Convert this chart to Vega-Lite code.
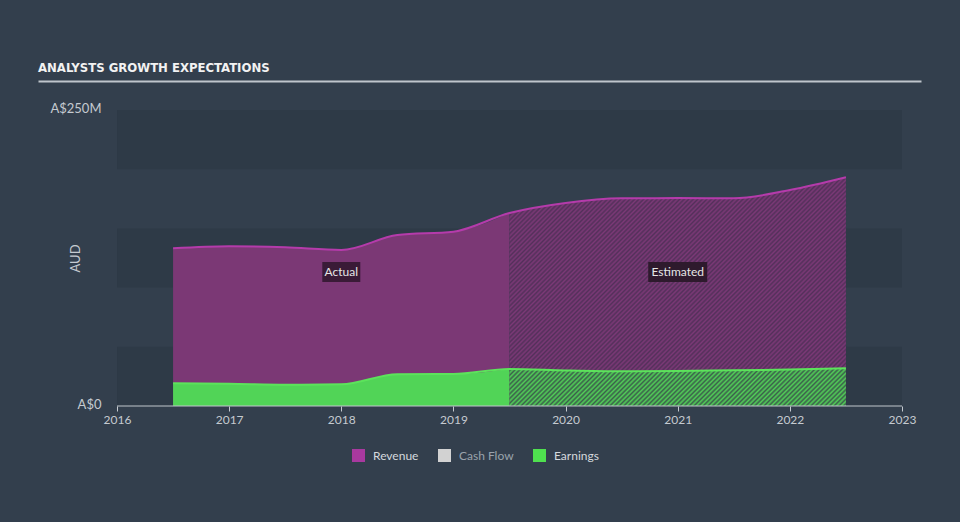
{
  "$schema": "https://vega.github.io/schema/vega-lite/v6.json",
  "autosize": {"type": "none"},
  "width": 883,
  "height": 296,
  "padding": {"left": 38, "top": 110, "right": 39, "bottom": 116},
  "background": "#333f4d",
  "title": {"text": "ANALYSTS GROWTH EXPECTATIONS", "anchor": "start", "frame": "group", "font": "Liberation Sans Narrow, DejaVu Sans Condensed, sans-serif", "fontSize": 13, "fontWeight": "bold", "color": "#f2f2f2", "offset": 6},
  "config": {"view": {"stroke": null}},
  "datasets": {
    "series": [
      {"year": 2016.5, "series": "Revenue", "value": 133.2},
      {"year": 2017.0, "series": "Revenue", "value": 134.9},
      {"year": 2017.5, "series": "Revenue", "value": 134.0},
      {"year": 2018.0, "series": "Revenue", "value": 131.8},
      {"year": 2018.5, "series": "Revenue", "value": 144.4},
      {"year": 2019.0, "series": "Revenue", "value": 147.2},
      {"year": 2019.5, "series": "Revenue", "value": 163.0},
      {"year": 2020.0, "series": "Revenue", "value": 171.5},
      {"year": 2020.5, "series": "Revenue", "value": 175.4},
      {"year": 2021.0, "series": "Revenue", "value": 175.6},
      {"year": 2021.5, "series": "Revenue", "value": 175.4},
      {"year": 2022.0, "series": "Revenue", "value": 182.4},
      {"year": 2022.5, "series": "Revenue", "value": 193.2},
      {"year": 2016.5, "series": "Earnings", "value": 19.2},
      {"year": 2017.0, "series": "Earnings", "value": 18.8},
      {"year": 2017.5, "series": "Earnings", "value": 18.0},
      {"year": 2018.0, "series": "Earnings", "value": 18.3},
      {"year": 2018.5, "series": "Earnings", "value": 26.8},
      {"year": 2019.0, "series": "Earnings", "value": 27.0},
      {"year": 2019.5, "series": "Earnings", "value": 31.3},
      {"year": 2020.0, "series": "Earnings", "value": 30.0},
      {"year": 2020.5, "series": "Earnings", "value": 29.3},
      {"year": 2021.0, "series": "Earnings", "value": 29.6},
      {"year": 2021.5, "series": "Earnings", "value": 30.2},
      {"year": 2022.0, "series": "Earnings", "value": 30.8},
      {"year": 2022.5, "series": "Earnings", "value": 31.8}
    ],
    "bands": [{"lo": 0, "hi": 50}, {"lo": 100, "hi": 150}, {"lo": 200, "hi": 250}],
    "labels": [{"label": "Actual", "year": 2018.0, "value": 113.2}, {"label": "Estimated", "year": 2021.0, "value": 113.2}]
  },
  "resolve": {"axis": {"x": "independent", "y": "independent"}},
  "layer": [
    {
      "data": {"name": "bands"},
      "mark": {"type": "rect", "color": "#2e3a47"},
      "encoding": {
        "x": {"datum": 2016, "type": "quantitative", "scale": {"domain": [2015.2955, 2023.1694], "nice": false, "zero": false}, "axis": null},
        "x2": {"datum": 2023},
        "y": {"field": "lo", "type": "quantitative", "scale": {"domain": [0, 250], "nice": false}, "axis": null},
        "y2": {"field": "hi"}
      }
    },
    {
      "data": {"name": "series"},
      "transform": [{"filter": "datum.series == 'Revenue' && datum.year <= 2019.5"}],
      "mark": {"type": "area", "interpolate": "monotone", "color": "#7b3875", "opacity": 1},
      "encoding": {
        "x": {"field": "year", "type": "quantitative", "scale": {"domain": [2015.2955, 2023.1694], "nice": false, "zero": false}, "axis": null},
        "y": {"field": "value", "type": "quantitative", "scale": {"domain": [0, 250], "nice": false}, "axis": null}
      }
    },
    {
      "data": {"name": "series"},
      "transform": [{"filter": "datum.series == 'Revenue' && datum.year >= 2019.5"}],
      "mark": {"type": "area", "interpolate": "monotone", "opacity": 1, "fill": {"gradient": "linear", "x1": 0, "y1": 0, "x2": 1.149, "y2": 0.781, "stops": [
{"offset":0,"color":"#7c3977"},{"offset":0.004,"color":"#53305a"},{"offset":0.008,"color":"#7c3977"},{"offset":0.012,"color":"#53305a"},{"offset":0.016,"color":"#7c3977"},{"offset":0.02,"color":"#53305a"},{"offset":0.024,"color":"#7c3977"},{"offset":0.028,"color":"#53305a"},{"offset":0.032,"color":"#7c3977"},{"offset":0.036,"color":"#53305a"},
{"offset":0.04,"color":"#7c3977"},{"offset":0.044,"color":"#53305a"},{"offset":0.048,"color":"#7c3977"},{"offset":0.052,"color":"#53305a"},{"offset":0.056,"color":"#7c3977"},{"offset":0.06,"color":"#53305a"},{"offset":0.064,"color":"#7c3977"},{"offset":0.068,"color":"#53305a"},{"offset":0.072,"color":"#7c3977"},{"offset":0.076,"color":"#53305a"},
{"offset":0.08,"color":"#7c3977"},{"offset":0.084,"color":"#53305a"},{"offset":0.088,"color":"#7c3977"},{"offset":0.092,"color":"#53305a"},{"offset":0.096,"color":"#7c3977"},{"offset":0.1,"color":"#53305a"},{"offset":0.104,"color":"#7c3977"},{"offset":0.108,"color":"#53305a"},{"offset":0.112,"color":"#7c3977"},{"offset":0.116,"color":"#53305a"},
{"offset":0.12,"color":"#7c3977"},{"offset":0.124,"color":"#53305a"},{"offset":0.128,"color":"#7c3977"},{"offset":0.132,"color":"#53305a"},{"offset":0.136,"color":"#7c3977"},{"offset":0.14,"color":"#53305a"},{"offset":0.144,"color":"#7c3977"},{"offset":0.148,"color":"#53305a"},{"offset":0.152,"color":"#7c3977"},{"offset":0.156,"color":"#53305a"},
{"offset":0.16,"color":"#7c3977"},{"offset":0.164,"color":"#53305a"},{"offset":0.168,"color":"#7c3977"},{"offset":0.172,"color":"#53305a"},{"offset":0.176,"color":"#7c3977"},{"offset":0.18,"color":"#53305a"},{"offset":0.184,"color":"#7c3977"},{"offset":0.188,"color":"#53305a"},{"offset":0.192,"color":"#7c3977"},{"offset":0.196,"color":"#53305a"},
{"offset":0.2,"color":"#7c3977"},{"offset":0.204,"color":"#53305a"},{"offset":0.208,"color":"#7c3977"},{"offset":0.212,"color":"#53305a"},{"offset":0.216,"color":"#7c3977"},{"offset":0.22,"color":"#53305a"},{"offset":0.224,"color":"#7c3977"},{"offset":0.228,"color":"#53305a"},{"offset":0.232,"color":"#7c3977"},{"offset":0.236,"color":"#53305a"},
{"offset":0.24,"color":"#7c3977"},{"offset":0.244,"color":"#53305a"},{"offset":0.248,"color":"#7c3977"},{"offset":0.252,"color":"#53305a"},{"offset":0.256,"color":"#7c3977"},{"offset":0.26,"color":"#53305a"},{"offset":0.264,"color":"#7c3977"},{"offset":0.268,"color":"#53305a"},{"offset":0.272,"color":"#7c3977"},{"offset":0.276,"color":"#53305a"},
{"offset":0.28,"color":"#7c3977"},{"offset":0.284,"color":"#53305a"},{"offset":0.288,"color":"#7c3977"},{"offset":0.292,"color":"#53305a"},{"offset":0.296,"color":"#7c3977"},{"offset":0.3,"color":"#53305a"},{"offset":0.304,"color":"#7c3977"},{"offset":0.308,"color":"#53305a"},{"offset":0.312,"color":"#7c3977"},{"offset":0.316,"color":"#53305a"},
{"offset":0.32,"color":"#7c3977"},{"offset":0.324,"color":"#53305a"},{"offset":0.328,"color":"#7c3977"},{"offset":0.332,"color":"#53305a"},{"offset":0.336,"color":"#7c3977"},{"offset":0.34,"color":"#53305a"},{"offset":0.344,"color":"#7c3977"},{"offset":0.348,"color":"#53305a"},{"offset":0.352,"color":"#7c3977"},{"offset":0.356,"color":"#53305a"},
{"offset":0.36,"color":"#7c3977"},{"offset":0.364,"color":"#53305a"},{"offset":0.368,"color":"#7c3977"},{"offset":0.372,"color":"#53305a"},{"offset":0.376,"color":"#7c3977"},{"offset":0.38,"color":"#53305a"},{"offset":0.384,"color":"#7c3977"},{"offset":0.388,"color":"#53305a"},{"offset":0.392,"color":"#7c3977"},{"offset":0.396,"color":"#53305a"},
{"offset":0.4,"color":"#7c3977"},{"offset":0.404,"color":"#53305a"},{"offset":0.408,"color":"#7c3977"},{"offset":0.412,"color":"#53305a"},{"offset":0.416,"color":"#7c3977"},{"offset":0.42,"color":"#53305a"},{"offset":0.424,"color":"#7c3977"},{"offset":0.428,"color":"#53305a"},{"offset":0.432,"color":"#7c3977"},{"offset":0.436,"color":"#53305a"},
{"offset":0.44,"color":"#7c3977"},{"offset":0.444,"color":"#53305a"},{"offset":0.448,"color":"#7c3977"},{"offset":0.452,"color":"#53305a"},{"offset":0.456,"color":"#7c3977"},{"offset":0.46,"color":"#53305a"},{"offset":0.464,"color":"#7c3977"},{"offset":0.468,"color":"#53305a"},{"offset":0.472,"color":"#7c3977"},{"offset":0.476,"color":"#53305a"},
{"offset":0.48,"color":"#7c3977"},{"offset":0.484,"color":"#53305a"},{"offset":0.488,"color":"#7c3977"},{"offset":0.492,"color":"#53305a"},{"offset":0.496,"color":"#7c3977"},{"offset":0.5,"color":"#53305a"},{"offset":0.504,"color":"#7c3977"},{"offset":0.508,"color":"#53305a"},{"offset":0.512,"color":"#7c3977"},{"offset":0.516,"color":"#53305a"},
{"offset":0.52,"color":"#7c3977"},{"offset":0.524,"color":"#53305a"},{"offset":0.528,"color":"#7c3977"},{"offset":0.532,"color":"#53305a"},{"offset":0.536,"color":"#7c3977"},{"offset":0.54,"color":"#53305a"},{"offset":0.544,"color":"#7c3977"},{"offset":0.548,"color":"#53305a"},{"offset":0.552,"color":"#7c3977"},{"offset":0.556,"color":"#53305a"},
{"offset":0.56,"color":"#7c3977"},{"offset":0.564,"color":"#53305a"},{"offset":0.568,"color":"#7c3977"},{"offset":0.572,"color":"#53305a"},{"offset":0.576,"color":"#7c3977"},{"offset":0.58,"color":"#53305a"},{"offset":0.584,"color":"#7c3977"},{"offset":0.588,"color":"#53305a"},{"offset":0.592,"color":"#7c3977"},{"offset":0.596,"color":"#53305a"},
{"offset":0.6,"color":"#7c3977"},{"offset":0.604,"color":"#53305a"},{"offset":0.608,"color":"#7c3977"},{"offset":0.612,"color":"#53305a"},{"offset":0.616,"color":"#7c3977"},{"offset":0.62,"color":"#53305a"},{"offset":0.624,"color":"#7c3977"},{"offset":0.628,"color":"#53305a"},{"offset":0.632,"color":"#7c3977"},{"offset":0.636,"color":"#53305a"},
{"offset":0.64,"color":"#7c3977"},{"offset":0.644,"color":"#53305a"},{"offset":0.648,"color":"#7c3977"},{"offset":0.652,"color":"#53305a"},{"offset":0.656,"color":"#7c3977"},{"offset":0.66,"color":"#53305a"},{"offset":0.664,"color":"#7c3977"},{"offset":0.668,"color":"#53305a"},{"offset":0.672,"color":"#7c3977"},{"offset":0.676,"color":"#53305a"},
{"offset":0.68,"color":"#7c3977"},{"offset":0.684,"color":"#53305a"},{"offset":0.688,"color":"#7c3977"},{"offset":0.692,"color":"#53305a"},{"offset":0.696,"color":"#7c3977"},{"offset":0.7,"color":"#53305a"},{"offset":0.704,"color":"#7c3977"},{"offset":0.708,"color":"#53305a"},{"offset":0.712,"color":"#7c3977"},{"offset":0.716,"color":"#53305a"},
{"offset":0.72,"color":"#7c3977"},{"offset":0.724,"color":"#53305a"},{"offset":0.728,"color":"#7c3977"},{"offset":0.732,"color":"#53305a"},{"offset":0.736,"color":"#7c3977"},{"offset":0.74,"color":"#53305a"},{"offset":0.744,"color":"#7c3977"},{"offset":0.748,"color":"#53305a"},{"offset":0.752,"color":"#7c3977"},{"offset":0.756,"color":"#53305a"},
{"offset":0.76,"color":"#7c3977"},{"offset":0.764,"color":"#53305a"},{"offset":0.768,"color":"#7c3977"},{"offset":0.772,"color":"#53305a"},{"offset":0.776,"color":"#7c3977"},{"offset":0.78,"color":"#53305a"},{"offset":0.784,"color":"#7c3977"},{"offset":0.788,"color":"#53305a"},{"offset":0.792,"color":"#7c3977"},{"offset":0.796,"color":"#53305a"},
{"offset":0.8,"color":"#7c3977"},{"offset":0.804,"color":"#53305a"},{"offset":0.808,"color":"#7c3977"},{"offset":0.812,"color":"#53305a"},{"offset":0.816,"color":"#7c3977"},{"offset":0.82,"color":"#53305a"},{"offset":0.824,"color":"#7c3977"},{"offset":0.828,"color":"#53305a"},{"offset":0.832,"color":"#7c3977"},{"offset":0.836,"color":"#53305a"},
{"offset":0.84,"color":"#7c3977"},{"offset":0.844,"color":"#53305a"},{"offset":0.848,"color":"#7c3977"},{"offset":0.852,"color":"#53305a"},{"offset":0.856,"color":"#7c3977"},{"offset":0.86,"color":"#53305a"},{"offset":0.864,"color":"#7c3977"},{"offset":0.868,"color":"#53305a"},{"offset":0.872,"color":"#7c3977"},{"offset":0.876,"color":"#53305a"},
{"offset":0.88,"color":"#7c3977"},{"offset":0.884,"color":"#53305a"},{"offset":0.888,"color":"#7c3977"},{"offset":0.892,"color":"#53305a"},{"offset":0.896,"color":"#7c3977"},{"offset":0.9,"color":"#53305a"},{"offset":0.904,"color":"#7c3977"},{"offset":0.908,"color":"#53305a"},{"offset":0.912,"color":"#7c3977"},{"offset":0.916,"color":"#53305a"},
{"offset":0.92,"color":"#7c3977"},{"offset":0.924,"color":"#53305a"},{"offset":0.928,"color":"#7c3977"},{"offset":0.932,"color":"#53305a"},{"offset":0.936,"color":"#7c3977"},{"offset":0.94,"color":"#53305a"},{"offset":0.944,"color":"#7c3977"},{"offset":0.948,"color":"#53305a"},{"offset":0.952,"color":"#7c3977"},{"offset":0.956,"color":"#53305a"},
{"offset":0.96,"color":"#7c3977"},{"offset":0.964,"color":"#53305a"},{"offset":0.968,"color":"#7c3977"},{"offset":0.972,"color":"#53305a"},{"offset":0.976,"color":"#7c3977"},{"offset":0.98,"color":"#53305a"},{"offset":0.984,"color":"#7c3977"},{"offset":0.988,"color":"#53305a"},{"offset":0.992,"color":"#7c3977"},{"offset":0.996,"color":"#53305a"},
{"offset":1,"color":"#7c3977"}
      ]}},
      "encoding": {
        "x": {"field": "year", "type": "quantitative", "scale": {"domain": [2015.2955, 2023.1694], "nice": false, "zero": false}, "axis": null},
        "y": {"field": "value", "type": "quantitative", "scale": {"domain": [0, 250], "nice": false}, "axis": null}
      }
    },
    {
      "data": {"name": "series"},
      "transform": [{"filter": "datum.series == 'Earnings' && datum.year <= 2019.5"}],
      "mark": {"type": "area", "interpolate": "monotone", "color": "#51d457", "opacity": 1},
      "encoding": {
        "x": {"field": "year", "type": "quantitative", "scale": {"domain": [2015.2955, 2023.1694], "nice": false, "zero": false}, "axis": null},
        "y": {"field": "value", "type": "quantitative", "scale": {"domain": [0, 250], "nice": false}, "axis": null}
      }
    },
    {
      "data": {"name": "series"},
      "transform": [{"filter": "datum.series == 'Earnings' && datum.year >= 2019.5"}],
      "mark": {"type": "area", "interpolate": "monotone", "opacity": 1, "fill": {"gradient": "linear", "x1": 0, "y1": 0, "x2": 1.098, "y2": 0.123, "stops": [
{"offset":0,"color":"#52cf58"},{"offset":0.00625,"color":"#3b5f4b"},{"offset":0.0125,"color":"#52cf58"},{"offset":0.01875,"color":"#3b5f4b"},{"offset":0.025,"color":"#52cf58"},{"offset":0.03125,"color":"#3b5f4b"},{"offset":0.0375,"color":"#52cf58"},{"offset":0.04375,"color":"#3b5f4b"},
{"offset":0.05,"color":"#52cf58"},{"offset":0.05625,"color":"#3b5f4b"},{"offset":0.0625,"color":"#52cf58"},{"offset":0.06875,"color":"#3b5f4b"},{"offset":0.075,"color":"#52cf58"},{"offset":0.08125,"color":"#3b5f4b"},{"offset":0.0875,"color":"#52cf58"},{"offset":0.09375,"color":"#3b5f4b"},
{"offset":0.1,"color":"#52cf58"},{"offset":0.10625,"color":"#3b5f4b"},{"offset":0.1125,"color":"#52cf58"},{"offset":0.11875,"color":"#3b5f4b"},{"offset":0.125,"color":"#52cf58"},{"offset":0.13125,"color":"#3b5f4b"},{"offset":0.1375,"color":"#52cf58"},{"offset":0.14375,"color":"#3b5f4b"},
{"offset":0.15,"color":"#52cf58"},{"offset":0.15625,"color":"#3b5f4b"},{"offset":0.1625,"color":"#52cf58"},{"offset":0.16875,"color":"#3b5f4b"},{"offset":0.175,"color":"#52cf58"},{"offset":0.18125,"color":"#3b5f4b"},{"offset":0.1875,"color":"#52cf58"},{"offset":0.19375,"color":"#3b5f4b"},
{"offset":0.2,"color":"#52cf58"},{"offset":0.20625,"color":"#3b5f4b"},{"offset":0.2125,"color":"#52cf58"},{"offset":0.21875,"color":"#3b5f4b"},{"offset":0.225,"color":"#52cf58"},{"offset":0.23125,"color":"#3b5f4b"},{"offset":0.2375,"color":"#52cf58"},{"offset":0.24375,"color":"#3b5f4b"},
{"offset":0.25,"color":"#52cf58"},{"offset":0.25625,"color":"#3b5f4b"},{"offset":0.2625,"color":"#52cf58"},{"offset":0.26875,"color":"#3b5f4b"},{"offset":0.275,"color":"#52cf58"},{"offset":0.28125,"color":"#3b5f4b"},{"offset":0.2875,"color":"#52cf58"},{"offset":0.29375,"color":"#3b5f4b"},
{"offset":0.3,"color":"#52cf58"},{"offset":0.30625,"color":"#3b5f4b"},{"offset":0.3125,"color":"#52cf58"},{"offset":0.31875,"color":"#3b5f4b"},{"offset":0.325,"color":"#52cf58"},{"offset":0.33125,"color":"#3b5f4b"},{"offset":0.3375,"color":"#52cf58"},{"offset":0.34375,"color":"#3b5f4b"},
{"offset":0.35,"color":"#52cf58"},{"offset":0.35625,"color":"#3b5f4b"},{"offset":0.3625,"color":"#52cf58"},{"offset":0.36875,"color":"#3b5f4b"},{"offset":0.375,"color":"#52cf58"},{"offset":0.38125,"color":"#3b5f4b"},{"offset":0.3875,"color":"#52cf58"},{"offset":0.39375,"color":"#3b5f4b"},
{"offset":0.4,"color":"#52cf58"},{"offset":0.40625,"color":"#3b5f4b"},{"offset":0.4125,"color":"#52cf58"},{"offset":0.41875,"color":"#3b5f4b"},{"offset":0.425,"color":"#52cf58"},{"offset":0.43125,"color":"#3b5f4b"},{"offset":0.4375,"color":"#52cf58"},{"offset":0.44375,"color":"#3b5f4b"},
{"offset":0.45,"color":"#52cf58"},{"offset":0.45625,"color":"#3b5f4b"},{"offset":0.4625,"color":"#52cf58"},{"offset":0.46875,"color":"#3b5f4b"},{"offset":0.475,"color":"#52cf58"},{"offset":0.48125,"color":"#3b5f4b"},{"offset":0.4875,"color":"#52cf58"},{"offset":0.49375,"color":"#3b5f4b"},
{"offset":0.5,"color":"#52cf58"},{"offset":0.50625,"color":"#3b5f4b"},{"offset":0.5125,"color":"#52cf58"},{"offset":0.51875,"color":"#3b5f4b"},{"offset":0.525,"color":"#52cf58"},{"offset":0.53125,"color":"#3b5f4b"},{"offset":0.5375,"color":"#52cf58"},{"offset":0.54375,"color":"#3b5f4b"},
{"offset":0.55,"color":"#52cf58"},{"offset":0.55625,"color":"#3b5f4b"},{"offset":0.5625,"color":"#52cf58"},{"offset":0.56875,"color":"#3b5f4b"},{"offset":0.575,"color":"#52cf58"},{"offset":0.58125,"color":"#3b5f4b"},{"offset":0.5875,"color":"#52cf58"},{"offset":0.59375,"color":"#3b5f4b"},
{"offset":0.6,"color":"#52cf58"},{"offset":0.60625,"color":"#3b5f4b"},{"offset":0.6125,"color":"#52cf58"},{"offset":0.61875,"color":"#3b5f4b"},{"offset":0.625,"color":"#52cf58"},{"offset":0.63125,"color":"#3b5f4b"},{"offset":0.6375,"color":"#52cf58"},{"offset":0.64375,"color":"#3b5f4b"},
{"offset":0.65,"color":"#52cf58"},{"offset":0.65625,"color":"#3b5f4b"},{"offset":0.6625,"color":"#52cf58"},{"offset":0.66875,"color":"#3b5f4b"},{"offset":0.675,"color":"#52cf58"},{"offset":0.68125,"color":"#3b5f4b"},{"offset":0.6875,"color":"#52cf58"},{"offset":0.69375,"color":"#3b5f4b"},
{"offset":0.7,"color":"#52cf58"},{"offset":0.70625,"color":"#3b5f4b"},{"offset":0.7125,"color":"#52cf58"},{"offset":0.71875,"color":"#3b5f4b"},{"offset":0.725,"color":"#52cf58"},{"offset":0.73125,"color":"#3b5f4b"},{"offset":0.7375,"color":"#52cf58"},{"offset":0.74375,"color":"#3b5f4b"},
{"offset":0.75,"color":"#52cf58"},{"offset":0.75625,"color":"#3b5f4b"},{"offset":0.7625,"color":"#52cf58"},{"offset":0.76875,"color":"#3b5f4b"},{"offset":0.775,"color":"#52cf58"},{"offset":0.78125,"color":"#3b5f4b"},{"offset":0.7875,"color":"#52cf58"},{"offset":0.79375,"color":"#3b5f4b"},
{"offset":0.8,"color":"#52cf58"},{"offset":0.80625,"color":"#3b5f4b"},{"offset":0.8125,"color":"#52cf58"},{"offset":0.81875,"color":"#3b5f4b"},{"offset":0.825,"color":"#52cf58"},{"offset":0.83125,"color":"#3b5f4b"},{"offset":0.8375,"color":"#52cf58"},{"offset":0.84375,"color":"#3b5f4b"},
{"offset":0.85,"color":"#52cf58"},{"offset":0.85625,"color":"#3b5f4b"},{"offset":0.8625,"color":"#52cf58"},{"offset":0.86875,"color":"#3b5f4b"},{"offset":0.875,"color":"#52cf58"},{"offset":0.88125,"color":"#3b5f4b"},{"offset":0.8875,"color":"#52cf58"},{"offset":0.89375,"color":"#3b5f4b"},
{"offset":0.9,"color":"#52cf58"},{"offset":0.90625,"color":"#3b5f4b"},{"offset":0.9125,"color":"#52cf58"},{"offset":0.91875,"color":"#3b5f4b"},{"offset":0.925,"color":"#52cf58"},{"offset":0.93125,"color":"#3b5f4b"},{"offset":0.9375,"color":"#52cf58"},{"offset":0.94375,"color":"#3b5f4b"},
{"offset":0.95,"color":"#52cf58"},{"offset":0.95625,"color":"#3b5f4b"},{"offset":0.9625,"color":"#52cf58"},{"offset":0.96875,"color":"#3b5f4b"},{"offset":0.975,"color":"#52cf58"},{"offset":0.98125,"color":"#3b5f4b"},{"offset":0.9875,"color":"#52cf58"},{"offset":0.99375,"color":"#3b5f4b"},
{"offset":1,"color":"#52cf58"}
      ]}},
      "encoding": {
        "x": {"field": "year", "type": "quantitative", "scale": {"domain": [2015.2955, 2023.1694], "nice": false, "zero": false}, "axis": null},
        "y": {"field": "value", "type": "quantitative", "scale": {"domain": [0, 250], "nice": false}, "axis": null}
      }
    },
    {
      "data": {"name": "series"},
      "mark": {"type": "line", "interpolate": "monotone", "strokeWidth": 2},
      "encoding": {
        "x": {"field": "year", "type": "quantitative", "scale": {"domain": [2015.2955, 2023.1694], "nice": false, "zero": false},
          "axis": {"orient": "bottom", "values": [2016, 2017, 2018, 2019, 2020, 2021, 2022, 2023], "format": "d", "domain": false, "grid": false, "ticks": true, "tickSize": 5, "tickColor": "#c5cad0", "labelColor": "#c5cad0", "labelFont": "Lato", "labelFontSize": 12, "labelPadding": 3, "labelFlush": false, "title": null}},
        "y": {"field": "value", "type": "quantitative", "scale": {"domain": [0, 250], "nice": false},
          "axis": {"orient": "left", "offset": -79, "values": [0, 250], "labelExpr": "datum.value == 0 ? 'A$0' : 'A$' + datum.value + 'M'", "domain": false, "ticks": false, "tickSize": 0, "grid": false, "labelPadding": 16, "labelOffset": -2, "labelColor": "#c5cad0", "labelFont": "Lato", "labelFontSize": 13, "title": "AUD", "titleX": -42, "titleY": 148, "titleAngle": -90, "titleAlign": "center", "titleBaseline": "middle", "titleFont": "Lato", "titleFontSize": 13, "titleFontWeight": "normal", "titleColor": "#c5cad0"}},
        "color": {"field": "series", "type": "nominal",
          "scale": {"domain": ["Revenue", "Cash Flow", "Earnings"], "range": ["#b53bab", "#d0d0d0", "#5ce35b"]},
          "legend": {"orient": "none", "legendX": 314, "legendY": 339, "direction": "horizontal", "title": null, "symbolType": "square", "symbolSize": 169, "symbolStrokeWidth": 0, "labelFont": "Lato", "labelFontSize": 12, "labelColor": "#d5d9dd", "labelOffset": 8, "columnPadding": 19,
            "encode": {
              "symbols": {"update": {"fill": {"signal": "datum.value === 'Revenue' ? '#a8399f' : datum.value === 'Cash Flow' ? '#d2d2d2' : '#4fe04f'"}, "stroke": {"value": "transparent"}, "opacity": {"value": 1}}},
              "labels": {"update": {"fill": {"signal": "datum.value === 'Cash Flow' ? '#9aa3ac' : '#d5d9dd'"}}}
            }}}
      }
    },
    {
      "data": {"name": "labels"},
      "transform": [{"filter": "datum.label == 'Actual'"}],
      "mark": {"type": "point", "shape": "M-1,-0.526H1V0.526H-1Z", "size": 1444, "filled": true, "color": "#3a1b37", "opacity": 1},
      "encoding": {
        "x": {"field": "year", "type": "quantitative", "scale": {"domain": [2015.2955, 2023.1694], "nice": false, "zero": false}, "axis": null},
        "y": {"field": "value", "type": "quantitative", "scale": {"domain": [0, 250], "nice": false}, "axis": null}
      }
    },
    {
      "data": {"name": "labels"},
      "transform": [{"filter": "datum.label == 'Estimated'"}],
      "mark": {"type": "point", "shape": "M-1,-0.339H1V0.339H-1Z", "size": 3481, "filled": true, "color": "#2e1a2d", "opacity": 1},
      "encoding": {
        "x": {"field": "year", "type": "quantitative", "scale": {"domain": [2015.2955, 2023.1694], "nice": false, "zero": false}, "axis": null},
        "y": {"field": "value", "type": "quantitative", "scale": {"domain": [0, 250], "nice": false}, "axis": null}
      }
    },
    {
      "data": {"name": "labels"},
      "mark": {"type": "text", "font": "Lato", "fontSize": 12, "color": "#e6e6e6", "align": "center", "baseline": "middle"},
      "encoding": {
        "x": {"field": "year", "type": "quantitative", "scale": {"domain": [2015.2955, 2023.1694], "nice": false, "zero": false}, "axis": null},
        "y": {"field": "value", "type": "quantitative", "scale": {"domain": [0, 250], "nice": false}, "axis": null},
        "text": {"field": "label"}
      }
    },
    {
      "data": {"values": [{"k": 0}]},
      "mark": {"type": "rule", "color": "#c0c6cc", "strokeWidth": 1},
      "encoding": {
        "x": {"datum": 2016, "type": "quantitative", "scale": {"domain": [2015.2955, 2023.1694], "nice": false, "zero": false},
          "axis": {"orient": "top", "offset": 29, "domain": true, "domainColor": "#bfc5cc", "domainWidth": 2, "ticks": false, "labels": false, "grid": false, "title": null}},
        "x2": {"datum": 2023},
        "y": {"datum": 0, "type": "quantitative", "scale": {"domain": [0, 250], "nice": false}, "axis": null}
      }
    }
  ]
}
